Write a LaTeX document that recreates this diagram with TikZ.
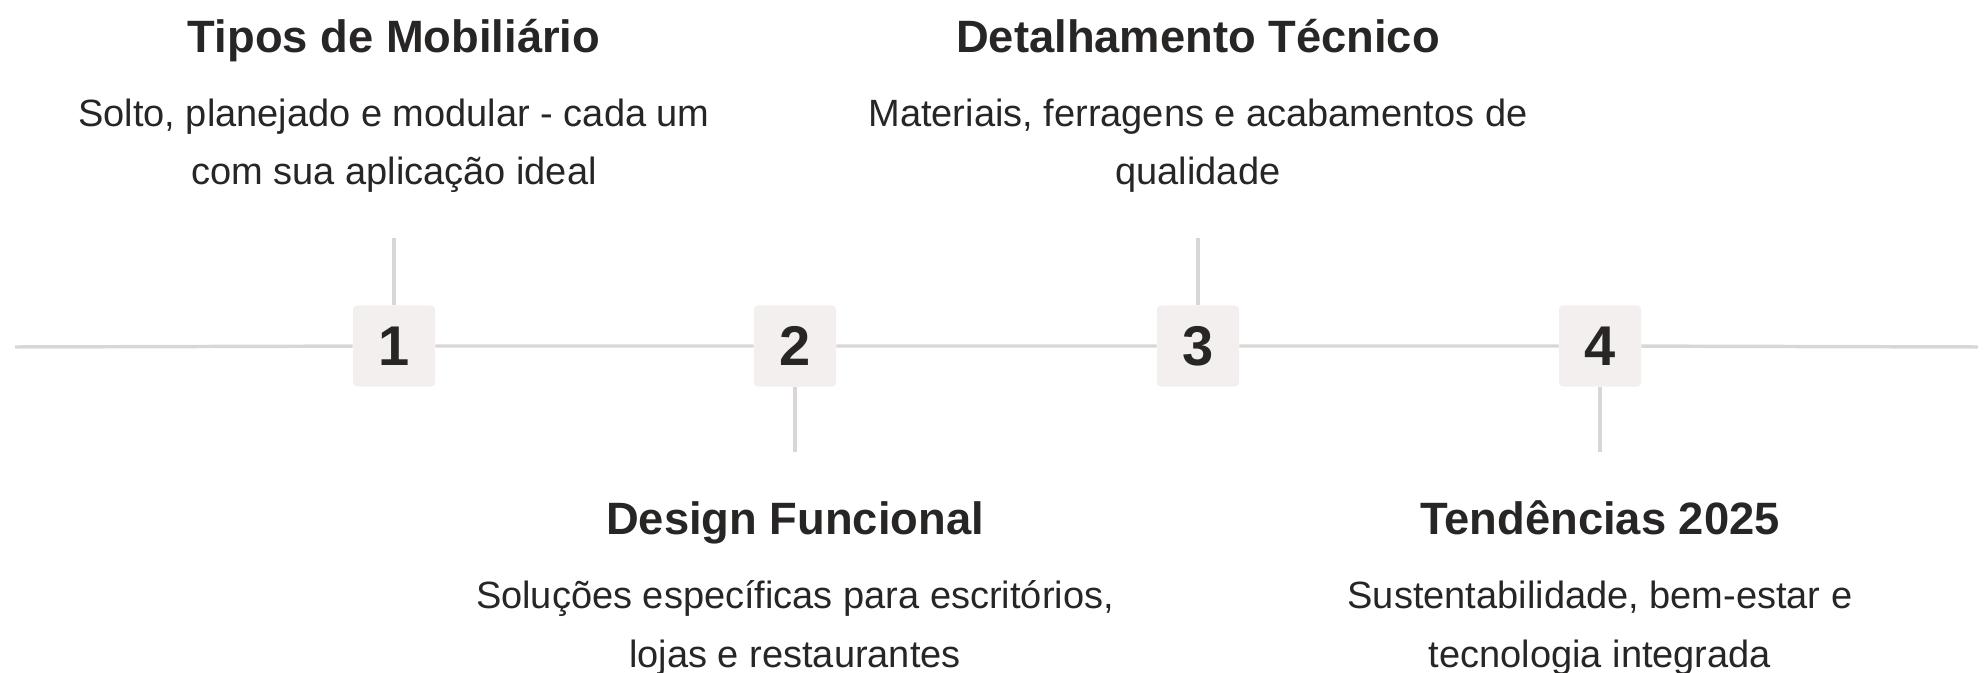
\documentclass[tikz,border=0pt]{standalone}
\usepackage{fontspec}
\setmainfont{Liberation Sans}
\usetikzlibrary{positioning}

\definecolor{stepfill}{RGB}{242,239,238}
\definecolor{stemgray}{RGB}{217,214,214}
\definecolor{inkdark}{RGB}{40,37,37}

\tikzset{
  numbox/.style={fill=stepfill, rounded corners=3pt, minimum width=61.5pt, minimum height=61pt, inner sep=0pt, text=inkdark, font=\fontsize{42}{42}\selectfont\bfseries},
  headline/.style={anchor=base, text=inkdark, font=\fontsize{34}{40}\selectfont\bfseries},
  blurb/.style={anchor=base, align=center, text=inkdark, font=\fontsize{28.5}{44}\selectfont},
  stem/.style={draw=stemgray, line width=2.6pt},
}

\begin{document}
\begin{tikzpicture}[x=0.75pt,y=0.75pt,yscale=-1,xscale=1]
%set diagram to the 1986 x 673 frame
\useasboundingbox (0,0) rectangle (1986,673);

% Step boxes
\node [numbox] (num1) at (394,346) {1};
\node [numbox] (num2) at (795,346) {2};
\node [numbox] (num3) at (1198,346) {3};
\node [numbox] (num4) at (1600,346) {4};

% Stem ends
\coordinate (lineL) at (15,347);
\coordinate (lineR) at (1978,347);
\coordinate (stem1) at (394,238);
\coordinate (stem2) at (795,452);
\coordinate (stem3) at (1198,238);
\coordinate (stem4) at (1600,452);

%Straight Lines
\draw [stem] (lineL) -- (num1) -- (num2) -- (num3) -- (num4) -- (lineR);
\draw [stem] (stem1) -- (num1);
\draw [stem] (num2) -- (stem2);
\draw [stem] (stem3) -- (num3);
\draw [stem] (num4) -- (stem4);

% Text Node (base of the blurb is its last line)
\node [headline] (title1) at (394,53) {Tipos de Mobiliário};
\node [blurb] (desc1) at (394,185) {Solto, planejado e modular - cada um\\com sua aplicação ideal};
% Text Node
\node [headline] (title2) at (795,535) {Design Funcional};
\node [blurb] (desc2) at (795,667) {Soluções específicas para escritórios,\\lojas e restaurantes};
% Text Node
\node [headline] (title3) at (1198,53) {Detalhamento Técnico};
\node [blurb] (desc3) at (1198,185) {Materiais, ferragens e acabamentos de\\qualidade};
% Text Node
\node [headline] (title4) at (1600,535) {Tendências 2025};
\node [blurb] (desc4) at (1600,667) {Sustentabilidade, bem-estar e\\tecnologia integrada};

\end{tikzpicture}
\end{document}
